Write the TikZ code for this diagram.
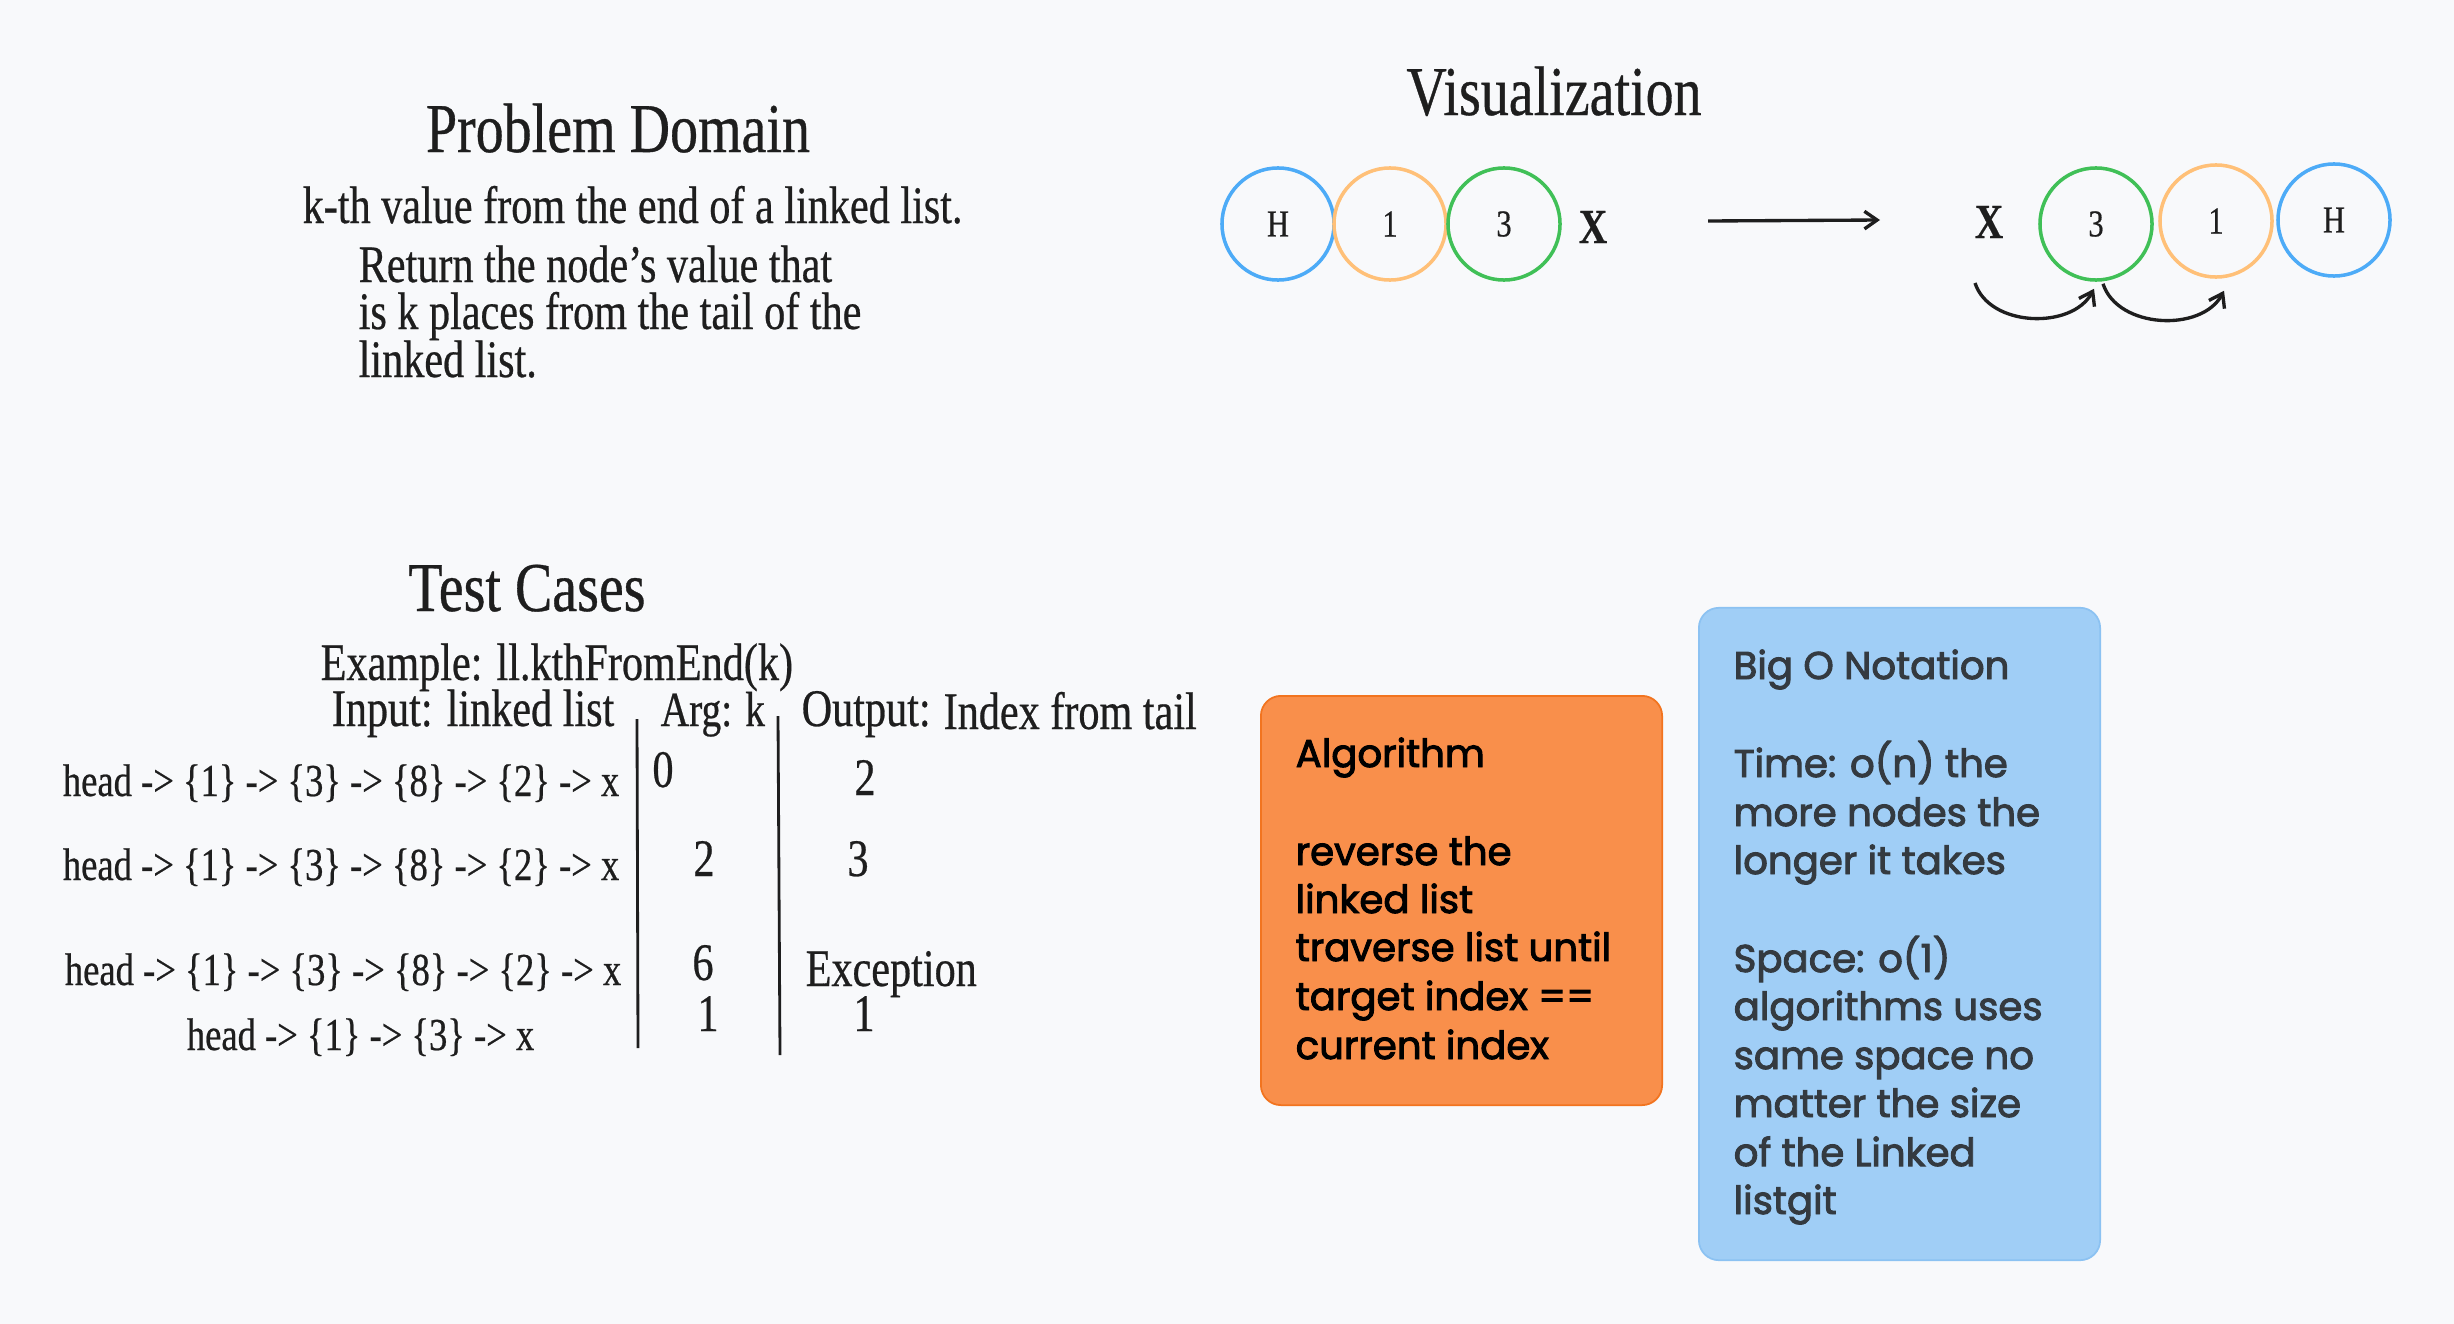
\documentclass[tikz,border=0pt]{standalone}
\usepackage{fontspec}
\setmainfont{Liberation Serif}[FakeStretch=0.8,FakeBold=0.5]
\newfontfamily\handfont{Poppins}[FakeBold=2.5]
\usetikzlibrary{arrows.meta}
\definecolor{bg}{HTML}{F8F9FB}
\definecolor{ink}{HTML}{1E1E1E}
\definecolor{cblue}{HTML}{4DABF7}
\definecolor{corange}{HTML}{FFC078}
\definecolor{cgreen}{HTML}{40C057}
\definecolor{ofill}{HTML}{F98F4B}
\definecolor{odraw}{HTML}{F2741F}
\definecolor{bfill}{HTML}{A0CEF6}
\definecolor{bdraw}{HTML}{8CC2F2}
\definecolor{darkgray}{HTML}{343A40}
\tikzset{
  titletext/.style={font=\fontsize{19.9}{24}\selectfont, text=ink, inner sep=0, anchor=base},
  bodytext/.style={font=\fontsize{15}{18}\selectfont, text=ink, inner sep=0},
  headtext/.style={font=\fontsize{13}{16}\selectfont, text=ink, inner sep=0, anchor=base east},
  listnode/.style={circle, draw, line width=1pt, minimum size=1.12cm, inner sep=0,
    font=\fontsize{10.8}{13}\selectfont, text=ink},
  bigx/.style={font=\bfseries\fontsize{14}{16}\selectfont, text=ink, inner sep=0},
  handtext/.style={font=\handfont\fontsize{11}{13}\selectfont, inner sep=0, anchor=base west},
  divider/.style={line width=0.8pt, draw=ink},
  conn/.style={line width=0.95pt, draw=ink, -{Straight Barb[length=3.6pt,width=5pt]}},
  notebox/.style={rounded corners=0.2cm, line width=0.5pt, inner sep=0}
}
\begin{document}
\begin{tikzpicture}[x=0.01cm, y=-0.01cm]
\fill[bg] (0,0) rectangle (2454,1324);

% Problem domain
\node[titletext] (pdtitle) at (618,152) {Problem Domain};
\node[bodytext, anchor=base west] (pd1) at (302,223) {k-th value from the end of a linked list.};
\node[bodytext, anchor=base west] (pd2) at (358,282) {Return the node’s value that};
\node[bodytext, anchor=base west] (pd3) at (358,329) {is k places from the tail of the};
\node[bodytext, anchor=base west] (pd4) at (358,377) {linked list.};

% Visualization
\node[titletext] (vistitle) at (1554,115) {Visualization};
\node[listnode, draw=cblue] (h1) at (1278,224) {H};
\node[listnode, draw=corange] (o1) at (1390,224) {1};
\node[listnode, draw=cgreen] (t1) at (1504,224) {3};
\node[bigx] (x1) at (1593,227) {X};
\coordinate (arrs) at (1708,221);
\coordinate (arre) at (1880,220);
\draw[conn] (arrs) -- (arre);

\node[bigx] (x2) at (1989,222) {X};
\node[listnode, draw=cgreen] (t2) at (2096,224) {3};
\node[listnode, draw=corange] (o2) at (2216,221) {1};
\node[listnode, draw=cblue] (h2) at (2334,220) {H};
\coordinate (c1s) at (1975,283);
\draw[conn] (c1s) to[out=-72,in=-118] ([shift={(-2,7)}]t2.south);
\draw[conn] ([shift={(7,2)}]t2.south) to[out=-72,in=-118] ([shift={(8,12)}]o2.south);

% Test cases
\node[titletext] (tctitle) at (527,611) {Test Cases};
\node[bodytext, anchor=base west] (example) at (320,680) {Example: ll.kthFromEnd(k)};
\node[bodytext, anchor=base east] (inputh) at (615,726) {Input: linked list};
\node[bodytext, anchor=base west, font=\fontsize{14}{17}\selectfont] (argh) at (660,726) {Arg: k};
\node[bodytext, anchor=base west] (outh) at (801,726) {Output:};
\node[bodytext, anchor=base west] (outh2) at (943,729) {Index from tail};
\draw[divider] (637,719) -- (638,1048);
\draw[divider] (778,716) -- (780,1055);

\node[headtext] (r1) at (620,796) {head -> \{1\} -> \{3\} -> \{8\} -> \{2\} -> x};
\node[bodytext, anchor=base] (r1a) at (663,787) {0};
\node[bodytext, anchor=base] (r1o) at (865,795) {2};
\node[headtext] (r2) at (620,880) {head -> \{1\} -> \{3\} -> \{8\} -> \{2\} -> x};
\node[bodytext, anchor=base] (r2a) at (704,876) {2};
\node[bodytext, anchor=base] (r2o) at (858,876) {3};
\node[headtext] (r3) at (622,985) {head -> \{1\} -> \{3\} -> \{8\} -> \{2\} -> x};
\node[bodytext, anchor=base] (r3a) at (703,980) {6};
\node[bodytext, anchor=base west] (r3o) at (805,986) {Exception};
\node[bodytext, anchor=base] (r4a) at (708,1031) {1};
\node[bodytext, anchor=base] (r4o) at (864,1031) {1};
\node[headtext] (r4) at (535,1050) {head -> \{1\} -> \{3\} -> x};

% Algorithm box
\node[notebox, draw=odraw, fill=ofill, minimum width=4.01cm, minimum height=4.09cm] (algbox) at (1461.5,900.5) {};
\node[handtext, text=black] (alg1) at (1295,767) {Algorithm};
\node[handtext, text=black] (alg2) at (1295,865) {reverse the};
\node[handtext, text=black] (alg3) at (1295,913) {linked list};
\node[handtext, text=black] (alg4) at (1295,961) {traverse list until};
\node[handtext, text=black] (alg5) at (1295,1010) {target index ==};
\node[handtext, text=black] (alg6) at (1295,1059) {current index};

% Big O box
\node[notebox, draw=bdraw, fill=bfill, minimum width=4.01cm, minimum height=6.52cm] (bigbox) at (1899.5,934) {};
\node[handtext, text=darkgray] (bo1) at (1733,679) {Big O Notation};
\node[handtext, text=darkgray] (bo2) at (1733,777) {Time: o(n) the};
\node[handtext, text=darkgray] (bo3) at (1733,826) {more nodes the};
\node[handtext, text=darkgray] (bo4) at (1733,874) {longer it takes};
\node[handtext, text=darkgray] (bo5) at (1733,972) {Space: o(1)};
\node[handtext, text=darkgray] (bo6) at (1733,1020) {algorithms uses};
\node[handtext, text=darkgray] (bo7) at (1733,1069) {same space no};
\node[handtext, text=darkgray] (bo8) at (1733,1117) {matter the size};
\node[handtext, text=darkgray] (bo9) at (1733,1166) {of the Linked};
\node[handtext, text=darkgray] (bo10) at (1733,1214) {listgit};
\end{tikzpicture}
\end{document}
